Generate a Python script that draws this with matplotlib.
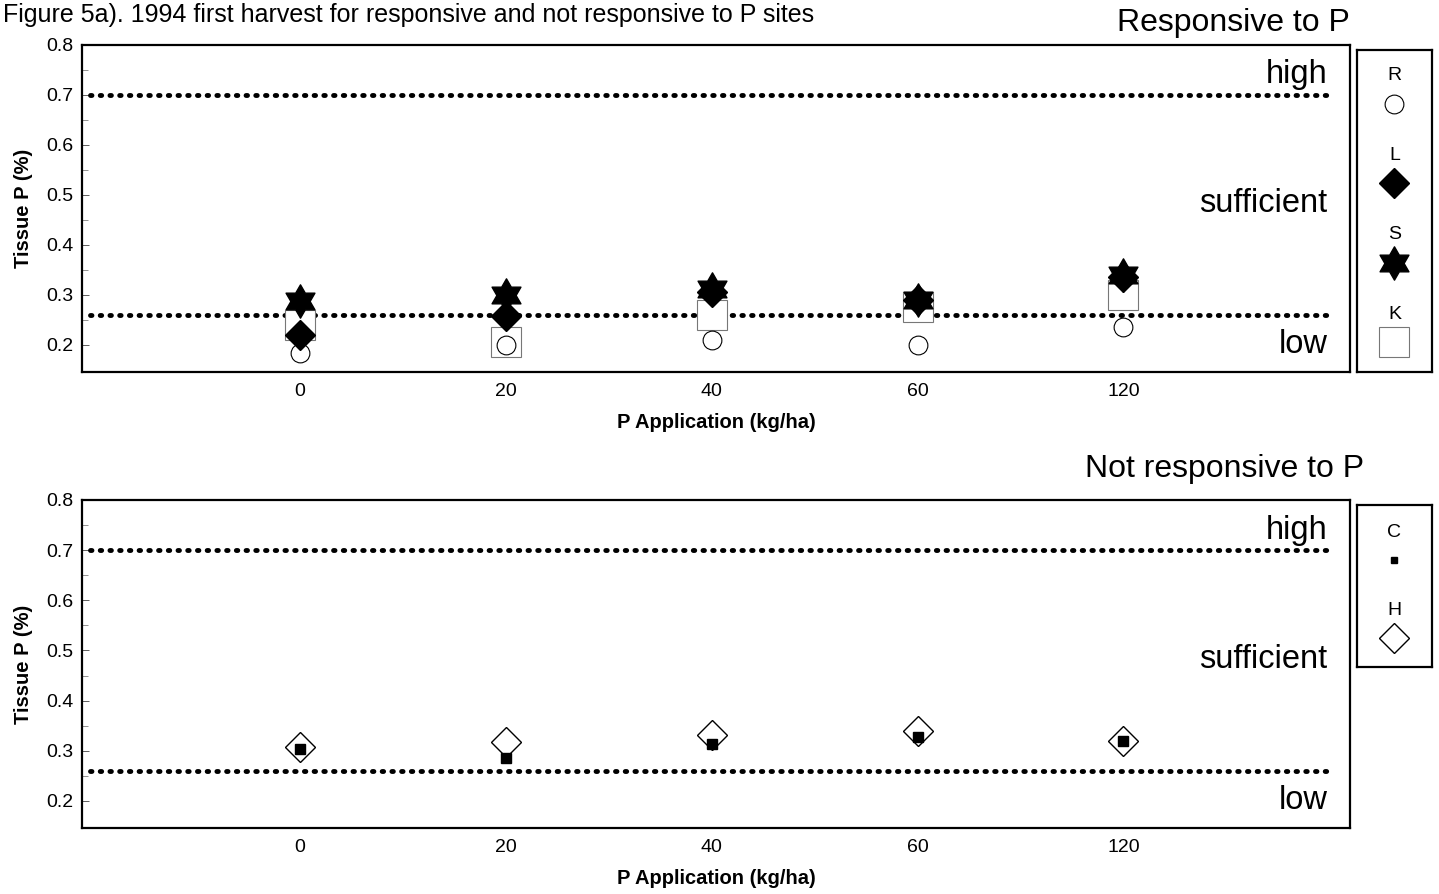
import numpy as np
import matplotlib.pyplot as plt
from matplotlib.path import Path

plt.rcParams['font.family'] = ['Liberation Sans', 'DejaVu Sans']

# P rates on the x axis (plotted as evenly spaced categories)
rates = ['0', '20', '40', '60', '120']

# Tissue P (%) for the sites responsive to P
r_vals = [0.184, 0.200, 0.210, 0.200, 0.235]
l_vals = [0.220, 0.257, 0.305, 0.290, 0.335]
s_vals = [0.287, 0.300, 0.312, 0.290, 0.340]
k_vals = [0.240, 0.205, 0.260, 0.275, 0.300]

# Tissue P (%) for the sites not responsive to P
c_vals = [0.304, 0.286, 0.314, 0.328, 0.320]
h_vals = [0.308, 0.318, 0.332, 0.340, 0.320]

# critical levels
high_level = 0.70
low_level = 0.26

# six pointed star marker (two overlapping triangles)
ang = np.deg2rad(90 + 30 * np.arange(12))
rad = np.where(np.arange(12) % 2 == 0, 1.0, 1 / np.sqrt(3))
verts = np.column_stack([rad * np.cos(ang), rad * np.sin(ang)])
verts = np.vstack([verts, verts[:1]])
hexagram = Path(verts, [Path.MOVETO] + [Path.LINETO] * 11 + [Path.CLOSEPOLY])

fig = plt.figure(figsize=(14.39, 8.94), dpi=100)
fig.text(0.002, 0.997, 'Figure 5a). 1994 first harvest for responsive and not responsive to P sites',
         fontsize=18, va='top', ha='left')

x = np.arange(len(rates))


def setup_panel(ax):
    ax.set_xlim(-1.06, 5.1)
    ax.set_ylim(0.146, 0.8)
    ax.set_yticks([0.2, 0.3, 0.4, 0.5, 0.6, 0.7, 0.8])
    ax.set_yticklabels(['0.2', '0.3', '0.4', '0.5', '0.6', '0.7', '0.8'])
    ax.set_yticks(np.arange(0.25, 0.8, 0.1), minor=True)
    ax.tick_params(axis='y', direction='in', length=5, width=0.6, labelsize=14, colors='#444444',
                   labelcolor='black', pad=6)
    ax.tick_params(axis='y', which='minor', direction='in', length=4, width=0.5, colors='#666666')
    ax.set_xticks(x)
    ax.set_xticklabels(rates)
    ax.tick_params(axis='x', length=0, labelsize=14, pad=8)
    for sp in ax.spines.values():
        sp.set_linewidth(1.6)
    ax.set_ylabel('Tissue P (%)', fontsize=14.5, fontweight='bold', labelpad=10)
    ax.set_xlabel('P Application (kg/ha)', fontsize=14.5, fontweight='bold', labelpad=9)
    for lev in (high_level, low_level):
        ax.plot([-1.02, 5.02], [lev, lev], color='black', lw=3.5,
                linestyle=(0, (0.3, 1.7)), dash_capstyle='round')
    ax.text(4.99, 0.74, 'high', fontsize=23.5, ha='right', va='center')
    ax.text(4.99, 0.482, 'sufficient', fontsize=23.5, ha='right', va='center')
    ax.text(4.99, 0.2, 'low', fontsize=23.5, ha='right', va='center')


def setup_key(ax):
    ax.set_xlim(0, 1)
    ax.set_ylim(0, 1)
    ax.set_xticks([])
    ax.set_yticks([])
    for sp in ax.spines.values():
        sp.set_linewidth(1.6)


# top panel: responsive to P
ax1 = fig.add_axes([0.057, 0.584, 0.881, 0.366])
setup_panel(ax1)
ax1.plot(x, k_vals, 's', ms=21, mfc='white', mec='#777777', mew=0.8, ls='none')
ax1.plot(x, r_vals, 'o', ms=13.5, mfc='white', mec='black', mew=0.8, ls='none')
ax1.plot(x, l_vals, 'D', ms=15, mfc='black', mec='black', ls='none')
ax1.plot(x, s_vals, marker=hexagram, ms=24, mfc='black', mec='black', ls='none')
fig.text(0.938, 0.974, 'Responsive to P', fontsize=23, ha='right', va='center')

key1 = fig.add_axes([0.943, 0.584, 0.052, 0.360])
setup_key(key1)
top_keys = [('R', 'o', 13.5, 'white', 0.8), ('L', 'D', 15, 'black', 1),
            ('S', hexagram, 24, 'black', 1), ('K', 's', 21, 'white', 0.8)]
for i, (lab, mk, ms, fc, mw) in enumerate(top_keys):
    y0 = 0.92 - i * 0.247
    key1.text(0.5, y0, lab, fontsize=14, ha='center', va='center')
    key1.plot([0.5], [y0 - 0.087], marker=mk, ms=ms, mfc=fc,
              mec='#777777' if lab == 'K' else 'black', mew=mw, ls='none')

# bottom panel: not responsive to P
ax2 = fig.add_axes([0.057, 0.0738, 0.881, 0.367])
setup_panel(ax2)
ax2.plot(x, h_vals, 'D', ms=15, mfc='white', mec='black', mew=1.0, ls='none')
ax2.plot(x, c_vals, 's', ms=6.5, mfc='black', mec='black', ls='none')
fig.text(0.948, 0.475, 'Not responsive to P', fontsize=23, ha='right', va='center')

key2 = fig.add_axes([0.943, 0.254, 0.052, 0.181])
setup_key(key2)
key2.text(0.5, 0.83, 'C', fontsize=14, ha='center', va='center')
key2.plot([0.5], [0.66], 's', ms=5, mfc='black', mec='black', ls='none')
key2.text(0.5, 0.35, 'H', fontsize=14, ha='center', va='center')
key2.plot([0.5], [0.18], 'D', ms=15, mfc='white', mec='black', mew=1.0, ls='none')

fig.savefig('out.png', dpi=100)
